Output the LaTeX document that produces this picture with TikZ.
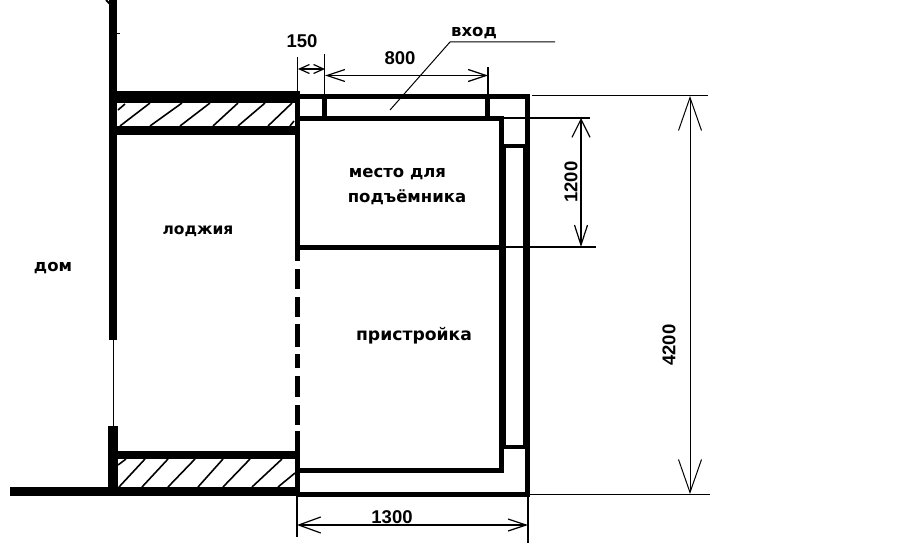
\documentclass[tikz,border=0pt]{standalone}
\usepackage{fontspec}
\setmainfont{DejaVu Sans}
\newfontfamily\dimfont{Liberation Sans}
\usetikzlibrary{arrows.meta}

\tikzset{
  wall/.style={line width=5pt},
  hatchline/.style={line width=1.6pt},
  thinline/.style={line width=1pt},
  dimline/.style={line width=1.2pt},
  roomlabel/.style={font=\fontsize{16.5}{18}\selectfont\bfseries, inner sep=0pt},
  dimlabel/.style={font=\dimfont\fontsize{18.5}{20}\selectfont\bfseries, inner sep=0pt},
}

\begin{document}
\begin{tikzpicture}[x=1pt, y=-1pt]
\useasboundingbox (0,0) rectangle (901,551);

% house wall and ground
\draw[line width=8pt] (113,0) -- (113,340);
\draw[thinline] (113,340) -- (113,426);
\draw[line width=10pt] (113,426) -- (113,490);
\draw[line width=9pt] (10,491.5) -- (298,491.5);
\draw[line width=2pt] (106,0) -- (112,6);
\draw[thinline] (117,34) -- (120,34);

% loggia slabs
\draw[line width=12pt] (113,97) -- (298,97);
\draw[line width=9pt] (113,130.5) -- (298,130.5);
\draw[line width=8pt] (113,455) -- (298,455);
\draw[wall] (297.5,91) -- (297.5,261);
\draw[wall] (297.5,450) -- (297.5,496);

% hatching
\draw[hatchline] (120,126) -- (150,103);
\draw[hatchline] (150,126) -- (182,103);
\draw[hatchline] (180,126) -- (210,103);
\draw[hatchline] (213,126) -- (238,103);
\draw[hatchline] (238,126) -- (265,103);
\draw[hatchline] (268,126) -- (292,103);
\draw[hatchline] (118,110) -- (125,104);
\draw[hatchline] (290,126) -- (294,121);
\draw[hatchline] (119,487) -- (145,459);
\draw[hatchline] (142,487) -- (168,459);
\draw[hatchline] (168,487) -- (195,459);
\draw[hatchline] (198,487) -- (223,459);
\draw[hatchline] (223,487) -- (250,459);
\draw[hatchline] (252,487) -- (282,459);
\draw[hatchline] (278,487) -- (295,473);
\draw[hatchline] (118,465) -- (126,459);

% dashed opening
\draw[wall] (297.5,269) -- (297.5,289);
\draw[wall] (297.5,297) -- (297.5,317);
\draw[wall] (297.5,324) -- (297.5,347);
\draw[wall] (297.5,354) -- (297.5,368);
\draw[wall] (297.5,376) -- (297.5,397);
\draw[wall] (297.5,405) -- (297.5,425);
\draw[wall] (297.5,431) -- (297.5,450);

% extension
\draw[wall, line join=miter] (298,96.5) -- (527,96.5) -- (527,494) -- (298,494);
\draw[wall, line join=miter] (298,118.5) -- (501.5,118.5) -- (501.5,470.5) -- (298,470.5);
\draw[wall] (298,247) -- (501.5,247);
\draw[wall] (324.5,96.5) -- (324.5,118.5);
\draw[wall] (487.5,96.5) -- (487.5,118.5);
\draw[line width=4pt] (501.5,146) -- (527,146);
\draw[line width=4pt] (501.5,447) -- (527,447);
\draw[line width=6pt] (526,146) -- (526,447);
\draw[line width=7pt] (502.5,146) -- (502.5,447);

% labels
\node[roomlabel] (house) at (53,268) {дом};
\node[roomlabel, font=\fontsize{15.5}{18}\selectfont\bfseries] (loggia) at (198,231) {лоджия};
\node[roomlabel] (liftplace) at (397.5,174) {место для};
\node[roomlabel] (liftword) at (407,197) {подъёмника};
\node[roomlabel, font=\fontsize{17.2}{18}\selectfont\bfseries] (annex) at (414,336) {пристройка};
\node[roomlabel] (entrance) at (474,33) {вход};

% entrance leader
\coordinate (leaderA) at (390,110);
\coordinate (leaderB) at (450,42);
\coordinate (leaderC) at (555,42);
\draw[thinline] (leaderA) -- (leaderB) -- (leaderC);

% dimension 150
\coordinate (d150a) at (298,69);
\coordinate (d150b) at (325,69);
\draw[dimline] (297.5,57) -- (297.5,91);
\draw[dimline] (324.5,54) -- (324.5,94);
\draw[dimline, {Straight Barb[length=10pt,width=9pt]}-{Straight Barb[length=10pt,width=9pt]}] (d150a) -- (d150b);
\node[dimlabel] (l150) at (302,41) {150};

% dimension 800
\coordinate (d800a) at (325,75.5);
\coordinate (d800b) at (488,75.5);
\draw[dimline] (488,67) -- (488,95);
\draw[dimline, {Straight Barb[length=18pt,width=12pt]}-{Straight Barb[length=18pt,width=12pt]}] (d800a) -- (d800b);
\node[dimlabel] (l800) at (400,58) {800};

% dimension 1200
\coordinate (d1200a) at (581,118);
\coordinate (d1200b) at (581,247);
\draw[dimline] (504,118) -- (590,118);
\draw[dimline] (504,247) -- (596,247);
\draw[dimline, {Straight Barb[length=18pt,width=18pt]}-{Straight Barb[length=20pt,width=13pt]}] (d1200a) -- (d1200b);
\node[dimlabel, rotate=90] (l1200) at (571,182) {1200};

% dimension 4200
\coordinate (d4200a) at (690,96);
\coordinate (d4200b) at (690,494);
\draw[thinline] (532,95.5) -- (708,95.5);
\draw[thinline] (530,494) -- (710,494);
\draw[thinline, {Straight Barb[length=33pt,width=23pt]}-{Straight Barb[length=33pt,width=23pt]}] (d4200a) -- (d4200b);
\node[dimlabel, rotate=90] (l4200) at (669,345) {4200};

% dimension 1300
\coordinate (d1300a) at (297,525);
\coordinate (d1300b) at (528,525);
\draw[dimline] (297,496) -- (297,537);
\draw[dimline] (528,496) -- (528,543);
\draw[dimline, {Straight Barb[length=22pt,width=16pt]}-{Straight Barb[length=18pt,width=12pt]}] (d1300a) -- (d1300b);
\node[dimlabel] (l1300) at (392,517) {1300};

\end{tikzpicture}
\end{document}
